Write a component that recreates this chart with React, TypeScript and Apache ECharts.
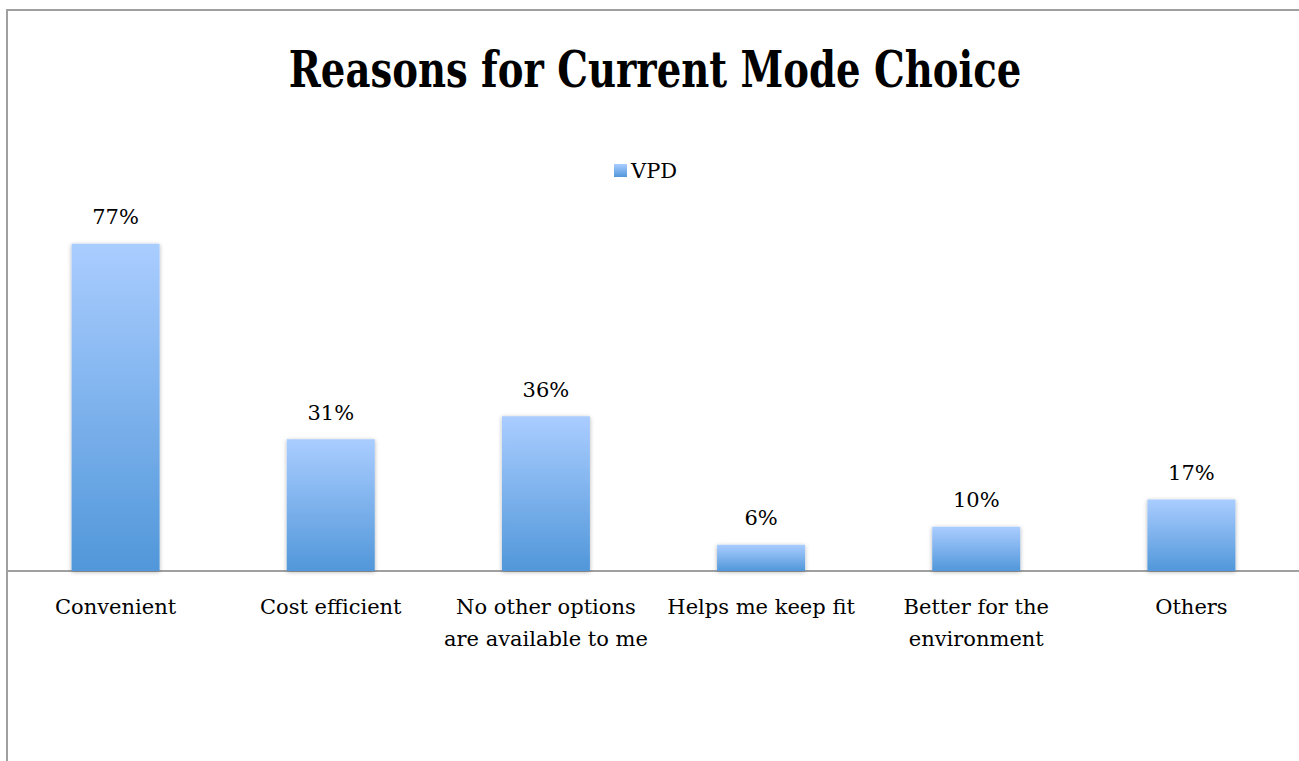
import React, { useEffect, useRef } from "react";
import * as echarts from "echarts";

const categories = [
  "Convenient",
  "Cost efficient",
  "No other options\nare available to me",
  "Helps me keep fit",
  "Better for the\nenvironment",
  "Others",
];
const seriesName = "VPD";
const values = [0.77, 0.31, 0.364, 0.062, 0.104, 0.168];
const titleText = "Reasons for Current Mode Choice";

const SERIF = "'DejaVu Serif', serif";

export default function App() {
  const ref = useRef<HTMLDivElement>(null);
  useEffect(() => {
    if (!ref.current) return;
    const chart = echarts.init(ref.current, null, { renderer: "svg" });
    const barColor = new echarts.graphic.LinearGradient(0, 0, 0, 1, [
      { offset: 0, color: "#aacdff" },
      { offset: 1, color: "#5197da" },
    ]);
    chart.setOption({
      animation: false,
      backgroundColor: "#ffffff",
      graphic: [
        {
          type: "rect",
          shape: { x: 7, y: 10, width: 1400, height: 900 },
          style: { fill: "none", stroke: "#a0a0a0", lineWidth: 2 },
          silent: true,
          z: -1,
        },
        {
          type: "text",
          x: 655,
          y: 70,
          scaleX: 0.772,
          style: {
            text: titleText,
            font: "bold 50px 'DejaVu Serif', serif",
            fill: "#000",
            textAlign: "center",
            textVerticalAlign: "middle",
          },
        },
      ],
      legend: {
        data: [seriesName],
        left: 614,
        top: 160,
        padding: 0,
        icon: "rect",
        itemWidth: 13,
        itemHeight: 13,
        itemGap: 4,
        textStyle: { fontFamily: SERIF, fontSize: 21, color: "#000", padding: [0, 0, 0, -1] },
      },
      grid: { left: 8, top: 146, width: 1298, height: 425, containLabel: false },
      xAxis: {
        type: "category",
        data: categories,
        axisLine: { lineStyle: { color: "#a0a0a0", width: 2 } },
        axisTick: { show: false },
        axisLabel: {
          interval: 0,
          margin: 20,
          fontFamily: SERIF,
          fontSize: 21,
          color: "#000",
          lineHeight: 32,
        },
      },
      yAxis: {
        type: "value",
        min: 0,
        max: 1,
        show: false,
        splitLine: { show: false },
      },
      series: [
        {
          name: seriesName,
          type: "bar",
          data: values,
          barWidth: 88,
          itemStyle: {
            color: barColor,
            shadowColor: "rgba(0,0,0,0.3)",
            shadowBlur: 4,
            shadowOffsetY: 1,
          },
          label: {
            show: true,
            position: "top",
            distance: 16,
            fontFamily: SERIF,
            fontSize: 21,
            color: "#000",
            formatter: (p: any) => Math.round(p.value * 100) + "%",
          },
        },
      ],
    });
    return () => chart.dispose();
  }, []);
  return (
    <div
      ref={ref}
      style={{ position: "fixed", left: 0, top: 0, width: 1299, height: 761 }}
    />
  );
}
